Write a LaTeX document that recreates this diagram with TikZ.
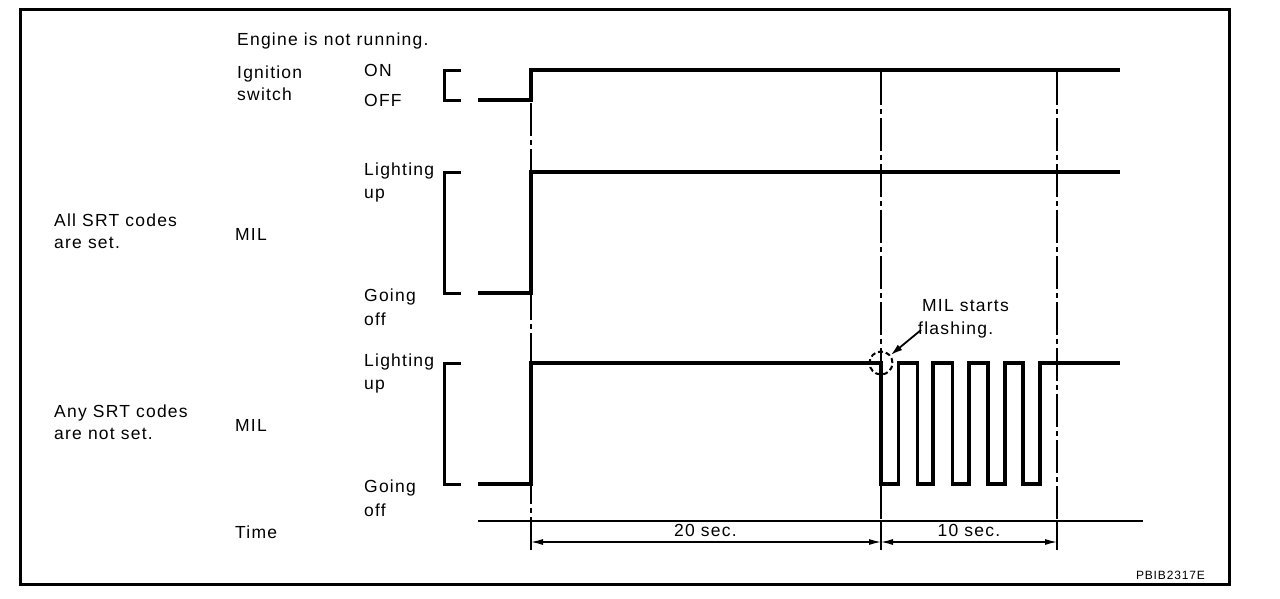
\documentclass[tikz,border=0pt]{standalone}
\usepackage{fontspec}
\setmainfont{Liberation Sans}[LetterSpace=7]
\usetikzlibrary{arrows.meta}
\begin{document}
\begin{tikzpicture}[x=1pt,y=-1pt,
 lbl/.style={inner sep=0pt, anchor=base west, font=\fontsize{17.5}{21}\selectfont},
 ctr/.style={inner sep=0pt, anchor=base, font=\fontsize{17.5}{21}\selectfont},
 sig/.style={line width=3.2pt, line join=miter},
 brk/.style={line width=3pt, line join=miter},
 guide/.style={line width=1.5pt, dash pattern=on 33pt off 4pt on 5pt off 4pt},
 tick/.style={line width=1.5pt},
 dim/.style={line width=1.2pt, {Latex[length=12pt,width=6pt]}-{Latex[length=12pt,width=6pt]}},
]
\useasboundingbox (0,0) rectangle (1280,598);
\draw[line width=3pt] (20.5,9.5) rectangle (1229,584);

% guide lines
\coordinate (g0t) at (531,103);
\coordinate (g1t) at (881,72);
\coordinate (g2t) at (1057,72);
\coordinate (g0a) at (531,521);
\coordinate (g1a) at (881,521);
\coordinate (g2a) at (1057,521);
\coordinate (g0b) at (531,550);
\coordinate (g1b) at (881,550);
\coordinate (g2b) at (1057,550);
\draw[guide] (g0t) -- (g0a);
\draw[guide] (g1t) -- (g1a);
\draw[guide] (g2t) -- (g2a);
\draw[tick] (g0a) -- (g0b);
\draw[tick] (g1a) -- (g1b);
\draw[tick] (g2a) -- (g2b);

% signals
\draw[sig] (478,100) -- (531,100) -- (531,70) -- (1120,70);
\draw[sig] (478,293) -- (531,293) -- (531,172) -- (1120,172);
\draw[sig] (478,484) -- (531,484) -- (531,363) -- (881,363) -- (881,484)
  -- (898.5,484) -- (898.5,363) -- (917.5,363) -- (917.5,484)
  -- (933,484) -- (933,363) -- (952.5,363) -- (952.5,484)
  -- (969,484) -- (969,363) -- (988,363) -- (988,484)
  -- (1005,484) -- (1005,363) -- (1023,363) -- (1023,484)
  -- (1040,484) -- (1040,363) -- (1120,363);

% brackets
\draw[brk] (461,70) -- (444,70) -- (444,100) -- (461,100);
\draw[brk] (461,172) -- (444,172) -- (444,293) -- (461,293);
\draw[brk] (461,363) -- (444,363) -- (444,484) -- (461,484);

% time axis and dimensions
\draw[line width=2pt] (478,521) -- (1143,521);
\coordinate (t0) at (531,542);
\coordinate (t1) at (881,542);
\coordinate (t2) at (1057,542);
\draw[dim] (t0) -- (t1);
\draw[dim] (t1) -- (t2);
\node[ctr] (d20) at (705.5,536.5) {20 sec.};
\node[ctr] (d10) at (969,536.5) {10 sec.};

% flashing marker
\node[circle, draw, dash pattern=on 5pt off 3pt, line width=2pt, minimum size=23pt, inner sep=0pt] (flash) at (881,363) {};
\coordinate (ftail) at (921,330);
\draw[line width=1.8pt, -{Latex[length=12pt,width=7pt]}] (ftail) -- (flash);
\node[lbl] (flashA) at (922,311.5) {MIL starts};
\node[lbl] (flashB) at (918,334.5) {flashing.};

% labels
\node[lbl] (engine) at (237,45.8) {Engine is not running.};
\node[lbl] (ignA) at (237,78) {Ignition};
\node[lbl] (ignB) at (237,100.5) {switch};
\node[lbl] (on) at (364,76) {ON};
\node[lbl] (off) at (364,106.5) {OFF};

\node[lbl] (lightA1) at (364,175) {Lighting};
\node[lbl] (lightB1) at (364,198) {up};
\node[lbl] (goingA1) at (364,301.5) {Going};
\node[lbl] (goingB1) at (364,325) {off};
\node[lbl] (allA) at (54,226.5) {All SRT codes};
\node[lbl] (allB) at (54,248) {are set.};
\node[lbl] (milA) at (235,240) {MIL};

\node[lbl] (lightA2) at (364,366) {Lighting};
\node[lbl] (lightB2) at (364,389) {up};
\node[lbl] (goingA2) at (364,492.5) {Going};
\node[lbl] (goingB2) at (364,516) {off};
\node[lbl] (anyA) at (54,417.5) {Any SRT codes};
\node[lbl] (anyB) at (54,439) {are not set.};
\node[lbl] (milB) at (235,431) {MIL};

\node[lbl] (time) at (235,538) {Time};
\node[inner sep=0pt, anchor=base east, font=\fontsize{12}{14}\selectfont] (code) at (1205,579) {PBIB2317E};
\end{tikzpicture}
\end{document}
